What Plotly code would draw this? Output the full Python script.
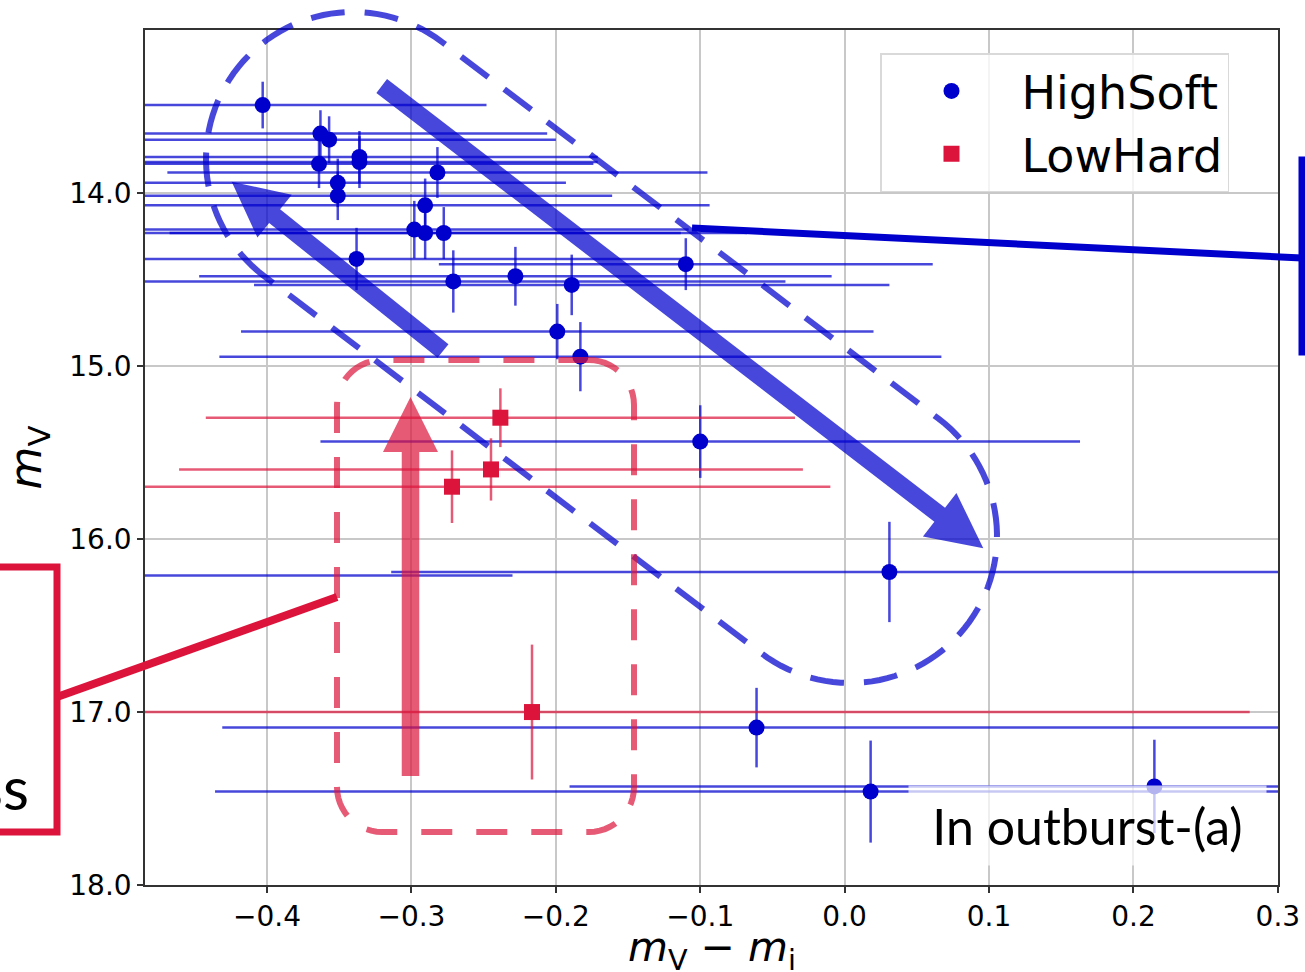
import numpy as np
import plotly.graph_objects as go

# ---------------- data ----------------
hs_x = [-0.403, -0.363, -0.357, -0.364, -0.351, -0.351, -0.336, -0.336, -0.282,
        -0.2905, -0.298, -0.2905, -0.2776, -0.338, -0.271, -0.228, -0.189, -0.110,
        -0.199, -0.183, -0.100, 0.031, -0.52, -0.061, 0.018, 0.2145]
hs_y = [13.49, 13.655, 13.69, 13.83, 13.94, 14.015, 13.79, 13.82, 13.88,
        14.07, 14.21, 14.23, 14.23, 14.38, 14.51, 14.48, 14.53, 14.41,
        14.80, 14.945, 15.436, 16.19, 16.21, 17.09, 17.46, 17.43]
hs_xerr = [0.155, 0.157, 0.157, 0.19, 0.158, 0.19, 0.165, 0.165, 0.187,
           0.197, 0.19, 0.177, 0.21, 0.228, 0.23, 0.219, 0.22, 0.171,
           0.219, 0.25, 0.263, 0.345, 0.29, 0.37, 0.454, 0.405]
hs_yerr = [0.135, 0.135, 0.135, 0.14, 0.14, 0.14, 0.15, 0.15, 0.147,
           0.155, 0.166, 0.15, 0.15, 0.18, 0.18, 0.17, 0.175, 0.15,
           0.16, 0.2, 0.21, 0.29, 0.25, 0.23, 0.295, 0.27]

lh_x = [-0.2384, -0.2449, -0.2719, -0.2165]
lh_y = [15.298, 15.597, 15.697, 17.0]
lh_xerr = [0.204, 0.216, 0.262, 0.497]
lh_yerr = [0.17, 0.18, 0.21, 0.39]

x_ticks = [-0.4, -0.3, -0.2, -0.1, 0.0, 0.1, 0.2, 0.3]
y_ticks = [14.0, 15.0, 16.0, 17.0, 18.0]

x_title = "<i>m</i><sub>V</sub> − <i>m</i><sub>i</sub>"
y_title = "<i>m</i><sub>V</sub>"

# ---------------- geometry helpers for the overlay drawing ----------------
W, H = 1305, 972
L, R, T, B = 145, 1278, 30, 885


def px2paper(px, py):
    return ((px - L) / (R - L), (B - py) / (B - T))


def path_from_pts(pts, close=True):
    s = []
    for i, (px, py) in enumerate(pts):
        x, y = px2paper(px, py)
        s.append(("M" if i == 0 else "L") + f"{x:.5f},{y:.5f}")
    return " ".join(s) + (" Z" if close else "")


def capsule(c1, c2, r, n=60):
    th = np.arctan2(c2[1] - c1[1], c2[0] - c1[0])
    pts = []
    for a in np.linspace(th + np.pi / 2, th + 3 * np.pi / 2, n):
        pts.append((c1[0] + r * np.cos(a), c1[1] + r * np.sin(a)))
    for a in np.linspace(th - np.pi / 2, th + np.pi / 2, n):
        pts.append((c2[0] + r * np.cos(a), c2[1] + r * np.sin(a)))
    return pts


def rrect(x0, y0, x1, y1, r, n=14):
    pts = []
    corners = [(x1 - r, y0 + r, -90, 0), (x1 - r, y1 - r, 0, 90),
               (x0 + r, y1 - r, 90, 180), (x0 + r, y0 + r, 180, 270)]
    for cx, cy, a0, a1 in corners:
        for a in np.linspace(np.radians(a0), np.radians(a1), n):
            pts.append((cx + r * np.cos(a), cy + r * np.sin(a)))
    return pts


def arrow(tail, tip, sw=17.5, hw=55, hl=55):
    tail = np.array(tail, float)
    tip = np.array(tip, float)
    d = (tip - tail) / np.linalg.norm(tip - tail)
    n = np.array([-d[1], d[0]])
    base = tip - d * hl
    pts = [tail + n * sw / 2, base + n * sw / 2, base + n * hw / 2, tip,
           base - n * hw / 2, base - n * sw / 2, tail - n * sw / 2]
    return [tuple(p) for p in pts]


BLUE = "#0000CD"
BLUE_A = "rgba(0,0,205,0.72)"
RED = "#DC143C"
RED_A = "rgba(220,20,60,0.7)"

fig = go.Figure()

fig.add_trace(go.Scatter(
    x=hs_x, y=hs_y, mode="markers", name="HighSoft",
    marker=dict(symbol="circle", size=16, color=BLUE),
    error_x=dict(type="data", array=hs_xerr, visible=True, color=BLUE_A, thickness=2.5, width=0),
    error_y=dict(type="data", array=hs_yerr, visible=True, color=BLUE_A, thickness=2.5, width=0),
))
fig.add_trace(go.Scatter(
    x=lh_x, y=lh_y, mode="markers", name="LowHard",
    marker=dict(symbol="square", size=16, color=RED),
    error_x=dict(type="data", array=lh_xerr, visible=True, color=RED_A, thickness=2.5, width=0),
    error_y=dict(type="data", array=lh_yerr, visible=True, color=RED_A, thickness=2.5, width=0),
))

shapes = []
# blue dashed capsule
shapes.append(dict(type="path", xref="paper", yref="paper",
                   path=path_from_pts(capsule((353, 159), (850, 536), 147)),
                   line=dict(color=BLUE_A, width=6, dash="34px,20px")))
# red dashed rounded rectangle
shapes.append(dict(type="path", xref="paper", yref="paper",
                   path=path_from_pts(rrect(337, 360, 634, 832, 45)),
                   line=dict(color=RED_A, width=6, dash="31px,24px")))
# thick arrows
for tail, tip, col in [((381.7, 86), (983.3, 548.3), BLUE_A),
                       ((443, 351), (231.7, 181.7), BLUE_A),
                       ((410.5, 776), (410.5, 397), RED_A)]:
    shapes.append(dict(type="path", xref="paper", yref="paper",
                       path=path_from_pts(arrow(tail, tip)),
                       fillcolor=col, line=dict(width=0)))
# connector lines and boxes
for (p0, p1, col, w) in [((337, 597), (57, 697), RED, 8),
                         ((692, 228), (1302, 258), BLUE, 7)]:
    a = px2paper(*p0)
    b = px2paper(*p1)
    shapes.append(dict(type="line", xref="paper", yref="paper",
                       x0=a[0], y0=a[1], x1=b[0], y1=b[1], line=dict(color=col, width=w)))
for (p0, p1, col) in [((-30, 567), (57, 832), RED), ((1302, 160), (1340, 352), BLUE)]:
    a = px2paper(*p0)
    b = px2paper(*p1)
    shapes.append(dict(type="rect", xref="paper", yref="paper",
                       x0=a[0], y0=a[1], x1=b[0], y1=b[1], line=dict(color=col, width=7)))

annotations = []
tx, ty = px2paper(1087, 825)
annotations.append(dict(xref="paper", yref="paper", x=tx, y=ty, xanchor="center", yanchor="middle",
                        text="In outburst-(a)", showarrow=False,
                        font=dict(family="Lato", size=50, color="black"),
                        bgcolor="rgba(255,255,255,0.7)", width=355, height=77))
sx, sy = px2paper(31, 787)
annotations.append(dict(xref="paper", yref="paper", x=sx, y=sy, xanchor="right", yanchor="middle",
                        text="ss", showarrow=False,
                        font=dict(family="Lato", size=60, color="black")))
# x-axis title placed as an annotation below the tick labels
xtx, xty = px2paper(712, 950)
annotations.append(dict(xref="paper", yref="paper", x=xtx, y=xty, xanchor="center", yanchor="middle",
                        text=x_title, showarrow=False,
                        font=dict(family="DejaVu Sans", size=41, color="black")))

lx, _ = px2paper(880, 0)
_, ly = px2paper(0, 53)

fig.update_layout(
    width=W, height=H,
    margin=dict(l=L, r=W - R, t=T, b=H - B, autoexpand=False),
    paper_bgcolor="white", plot_bgcolor="white",
    font=dict(family="DejaVu Sans", color="black"),
    shapes=shapes, annotations=annotations,
    legend=dict(x=lx, y=ly, xanchor="left", yanchor="top",
                font=dict(family="DejaVu Sans", size=46, color="black"),
                bgcolor="rgba(255,255,255,0.8)", bordercolor="#d9d9d9", borderwidth=1.5,
                itemwidth=130),
    xaxis=dict(range=[-0.4845, 0.3001], tickvals=x_ticks, tickformat=".1f",
               showgrid=True, gridcolor="#c8c8c8", gridwidth=1.5, zeroline=False,
               showline=True, linecolor="#333", linewidth=1.5, mirror=True,
               ticks="outside", ticklen=6, tickwidth=1.5, tickcolor="#333",
               tickfont=dict(family="DejaVu Sans", size=28, color="black")),
    yaxis=dict(range=[18.0001, 13.056], tickvals=y_ticks, tickformat=".1f",
               showgrid=True, gridcolor="#c8c8c8", gridwidth=1.5, zeroline=False,
               showline=True, linecolor="#333", linewidth=1.5, mirror=True,
               ticks="outside", ticklen=6, tickwidth=1.5, tickcolor="#333",
               tickfont=dict(family="DejaVu Sans", size=28, color="black"),
               title=dict(text=y_title,
                          font=dict(family="DejaVu Sans", size=44, color="black"), standoff=14)),
)

fig.write_html("out.html")
